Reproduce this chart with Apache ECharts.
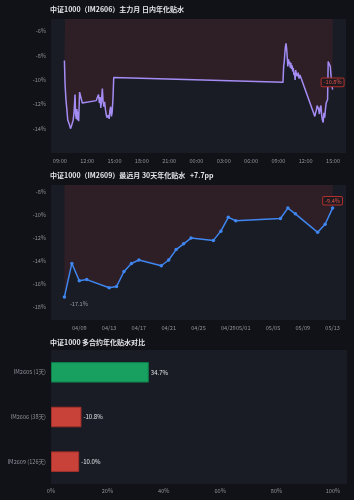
<!DOCTYPE html>
<html>
<head>
<meta charset="utf-8">
<script src="https://cdn.jsdelivr.net/npm/echarts@6/dist/echarts.min.js"></script>
<style>
  html, body { margin: 0; padding: 0; background: #111217; }
  #main { width: 354px; height: 500px; }
</style>
</head>
<body>
<div id="main"></div>
<script>
// 图1：IM2606 日内年化贴水（两个交易日）
const intradayTimes = [
  '2026-05-12 09:30', '2026-05-12 09:34', '2026-05-12 09:40', '2026-05-12 09:46', '2026-05-12 09:52',
  '2026-05-12 09:58', '2026-05-12 10:04', '2026-05-12 10:10', '2026-05-12 10:16', '2026-05-12 10:22',
  '2026-05-12 10:28', '2026-05-12 10:34', '2026-05-12 10:40', '2026-05-12 10:44', '2026-05-12 10:48',
  '2026-05-12 10:52', '2026-05-12 10:56', '2026-05-12 11:00', '2026-05-12 11:04', '2026-05-12 11:10',
  '2026-05-12 11:16', '2026-05-12 11:22', '2026-05-12 11:28',
  '2026-05-12 13:00', '2026-05-12 13:05', '2026-05-12 13:10', '2026-05-12 13:15', '2026-05-12 13:20',
  '2026-05-12 13:25', '2026-05-12 13:30', '2026-05-12 13:35', '2026-05-12 13:40', '2026-05-12 13:45',
  '2026-05-12 13:50', '2026-05-12 13:55', '2026-05-12 14:00', '2026-05-12 14:05', '2026-05-12 14:10',
  '2026-05-12 14:15', '2026-05-12 14:20', '2026-05-12 14:25', '2026-05-12 14:30', '2026-05-12 14:35',
  '2026-05-12 14:40', '2026-05-12 14:45', '2026-05-12 14:50', '2026-05-12 14:55', '2026-05-12 15:00',
  '2026-05-13 09:30', '2026-05-13 09:35', '2026-05-13 09:38', '2026-05-13 09:42', '2026-05-13 09:46',
  '2026-05-13 09:50', '2026-05-13 09:54', '2026-05-13 09:58', '2026-05-13 10:02', '2026-05-13 10:06',
  '2026-05-13 10:10', '2026-05-13 10:14', '2026-05-13 10:18', '2026-05-13 10:22', '2026-05-13 10:26',
  '2026-05-13 10:30', '2026-05-13 10:34', '2026-05-13 10:38', '2026-05-13 10:42', '2026-05-13 10:46',
  '2026-05-13 10:50', '2026-05-13 10:54', '2026-05-13 10:58', '2026-05-13 11:04', '2026-05-13 11:10',
  '2026-05-13 11:16', '2026-05-13 11:22', '2026-05-13 11:28',
  '2026-05-13 13:00', '2026-05-13 13:05', '2026-05-13 13:10', '2026-05-13 13:15', '2026-05-13 13:20',
  '2026-05-13 13:25', '2026-05-13 13:30', '2026-05-13 13:35', '2026-05-13 13:40', '2026-05-13 13:45',
  '2026-05-13 13:50', '2026-05-13 13:55', '2026-05-13 14:00', '2026-05-13 14:05', '2026-05-13 14:10',
  '2026-05-13 14:15', '2026-05-13 14:20', '2026-05-13 14:24', '2026-05-13 14:28', '2026-05-13 14:35',
  '2026-05-13 14:42', '2026-05-13 14:50', '2026-05-13 14:57'
]
const intradayBasis = [
  -8.4, -10.3, -11.6, -12.4, -13.3,
  -13.4, -13.7, -14.0, -13.8, -13.7,
  -13.3, -12.6, -11.2, -12.8, -13.2,
  -12.4, -13.3, -12.6, -13.4, -11.0,
  -10.9, -11.0, -11.9,
  -11.7, -11.5, -11.6, -11.2, -11.9,
  -11.4, -12.3, -11.6, -10.7, -11.8,
  -12.2, -11.8, -12.4, -12.8, -13.1,
  -13.2, -12.9, -13.2, -12.5, -12.2,
  -13.0, -12.6, -11.5, -9.8, -9.7,
  -10.2, -8.8, -8.6, -7.9, -7.3,
  -7.0, -7.4, -8.1, -8.9, -8.3,
  -8.7, -8.5, -9.0, -8.6, -9.1,
  -8.8, -9.3, -9.0, -9.6, -9.4,
  -10.0, -9.2, -9.5, -9.7, -9.4,
  -9.9, -9.6, -9.7,
  -13.0, -12.7, -12.5, -12.1, -12.0,
  -12.4, -12.8, -12.3, -12.1, -12.9,
  -13.3, -13.5, -12.7, -13.1, -12.4,
  -11.9, -11.8, -11.6, -8.5, -8.4,
  -8.9, -10.2, -10.8
]
const hourTicks = [
  '2026-05-12 09:00', '2026-05-12 12:00', '2026-05-12 15:00', '2026-05-12 18:00',
  '2026-05-12 21:00', '2026-05-13 00:00', '2026-05-13 03:00', '2026-05-13 06:00',
  '2026-05-13 09:00', '2026-05-13 12:00', '2026-05-13 15:00'
]

// 图2：IM2609 最近30天年化贴水
const farDates = [
  '2026-04-07', '2026-04-08', '2026-04-09', '2026-04-10', '2026-04-13', '2026-04-14',
  '2026-04-15', '2026-04-16', '2026-04-17', '2026-04-20', '2026-04-21', '2026-04-22',
  '2026-04-23', '2026-04-24', '2026-04-27', '2026-04-28', '2026-04-29', '2026-04-30',
  '2026-05-06', '2026-05-07', '2026-05-08', '2026-05-11', '2026-05-12', '2026-05-13'
]
const farBasis = [
  -17.1, -14.2, -15.7, -15.6, -16.3, -16.2,
  -14.9, -14.2, -13.9, -14.4, -13.9, -13.0,
  -12.5, -12.0, -12.2, -11.4, -10.2, -10.5,
  -10.3, -9.4, -9.9, -11.5, -10.8, -9.4
]

// 图3：多合约对比
const contracts = ['IM2605 (1天)', 'IM2606 (38天)', 'IM2609 (126天)']
const contractBasis = [34.7, -10.8, -10.0]

const toTs = s => new Date(s.replace(' ', 'T')).getTime()
const pad5 = { min: v => v.min - (v.max - v.min) * 0.05, max: v => v.max + (v.max - v.min) * 0.05 }

const FONT = 'Noto Sans CJK JP'
const LABEL = { color: '#8d919b', fontSize: 5.6, fontFamily: FONT }
const RED = '#c9423a'
const GREEN = '#17a060'

const chart = echarts.init(document.getElementById('main'))

const titleStyle = { color: '#e3e5e9', fontSize: 7, fontWeight: 'bold', fontFamily: FONT }
const lastI = intradayTimes.length - 1
const lastF = farDates.length - 1
const endLabel = {
  show: true, position: 'top', distance: 3,
  formatter: p => p.value.toFixed(1) + '%',
  color: '#e2524b', fontSize: 5.6, fontFamily: FONT,
  borderColor: '#b0302c', borderWidth: 1, borderRadius: 1,
  backgroundColor: '#1f1a20', padding: [1, 2]
}

const option = {
  backgroundColor: '#111217',
  animation: false,
  title: [
    { text: '中证1000（IM2606）主力月 日内年化贴水', left: 50, top: 6, padding: 0, textStyle: titleStyle },
    { text: '中证1000（IM2609）最远月 30天年化贴水   +7.7pp', left: 50, top: 172, padding: 0, textStyle: titleStyle },
    { text: '中证1000 多合约年化贴水对比', left: 50, top: 339, padding: 0, textStyle: titleStyle }
  ],
  grid: [
    { left: 51, right: 8, top: 19, height: 134, show: true, backgroundColor: '#191c25', borderWidth: 0 },
    { left: 51, right: 8, top: 185, height: 135, show: true, backgroundColor: '#191c25', borderWidth: 0 },
    { left: 51, right: 7, top: 350, height: 134, show: true, backgroundColor: '#191c25', borderWidth: 0 }
  ],
  xAxis: [
    {
      gridIndex: 0, type: 'time', ...pad5,
      axisLine: { show: false }, axisTick: { show: false, customValues: hourTicks.map(toTs) }, splitLine: { show: false },
      axisLabel: { ...LABEL, margin: 5, formatter: '{HH}:{mm}', customValues: hourTicks.map(toTs), hideOverlap: false }
    },
    {
      gridIndex: 1, type: 'time', ...pad5, splitNumber: 8,
      axisLine: { show: false }, axisTick: { show: false }, splitLine: { show: false },
      axisLabel: { ...LABEL, margin: 5, formatter: '{MM}/{dd}', hideOverlap: false }
    },
    {
      gridIndex: 2, type: 'value', min: 0, max: 105, interval: 20,
      axisLine: { show: false }, axisTick: { show: false }, splitLine: { show: false },
      axisLabel: { ...LABEL, margin: 4, formatter: '{value}%', showMaxLabel: false }
    }
  ],
  yAxis: [
    {
      gridIndex: 0, type: 'value', min: v => v.min - 2, max: v => v.max + 2,
      axisLine: { show: false }, axisTick: { show: false }, splitLine: { show: false },
      axisLabel: { ...LABEL, margin: 5, formatter: '{value}%', showMinLabel: false, showMaxLabel: false }
    },
    {
      gridIndex: 1, type: 'value', min: v => v.min - 2, max: v => v.max + 2,
      axisLine: { show: false }, axisTick: { show: false }, splitLine: { show: false },
      axisLabel: { ...LABEL, margin: 5, formatter: '{value}%', showMinLabel: false, showMaxLabel: false }
    },
    {
      gridIndex: 2, type: 'category', data: contracts, inverse: true,
      axisLine: { show: false }, axisTick: { show: false }, splitLine: { show: false },
      axisLabel: { ...LABEL, margin: 5 }
    }
  ],
  series: [
    {
      type: 'line', xAxisIndex: 0, yAxisIndex: 0,
      data: intradayTimes.map((t, i) => [toTs(t), intradayBasis[i]]),
      showSymbol: false,
      lineStyle: { color: '#a48cf4', width: 1.5 },
      itemStyle: { color: '#a48cf4' },
      areaStyle: { origin: 'end', color: 'rgba(225,60,60,0.15)' },
      markPoint: {
        symbol: 'circle', symbolSize: 1, itemStyle: { color: 'transparent' },
        data: [{ coord: [toTs(intradayTimes[lastI]), intradayBasis[lastI]], value: intradayBasis[lastI], label: endLabel }]
      }
    },
    {
      type: 'line', xAxisIndex: 1, yAxisIndex: 1,
      data: farDates.map((d, i) => [toTs(d + ' 00:00'), farBasis[i]]),
      symbol: 'circle', symbolSize: 3.5,
      lineStyle: { color: '#3f86f0', width: 1.5 },
      itemStyle: { color: '#3f86f0' },
      areaStyle: { origin: 'end', color: 'rgba(225,60,60,0.15)' },
      markPoint: {
        symbol: 'circle', symbolSize: 1, itemStyle: { color: 'transparent' },
        data: [
          { coord: [toTs(farDates[lastF] + ' 00:00'), farBasis[lastF]], value: farBasis[lastF], label: endLabel },
          {
            coord: [toTs(farDates[0] + ' 00:00'), farBasis[0]], value: farBasis[0],
            label: { show: true, position: 'right', distance: 5, offset: [0, 7], color: '#9a9ea8', fontSize: 5.6, fontFamily: FONT, formatter: p => p.value.toFixed(1) + '%' }
          }
        ]
      }
    },
    {
      type: 'bar', xAxisIndex: 2, yAxisIndex: 2, barWidth: 20.5,
      data: contractBasis.map(v => ({
        value: Math.abs(v), raw: v,
        itemStyle: { color: v > 0 ? GREEN : RED, borderColor: v > 0 ? '#0f7d4a' : '#a5302a', borderWidth: 1 }
      })),
      label: {
        show: true, position: 'right', distance: 2, color: '#e6e8ec', fontSize: 6, fontFamily: FONT,
        formatter: p => p.data.raw.toFixed(1) + '%'
      }
    }
  ]
}

chart.setOption(option)
</script>
</body>
</html>
